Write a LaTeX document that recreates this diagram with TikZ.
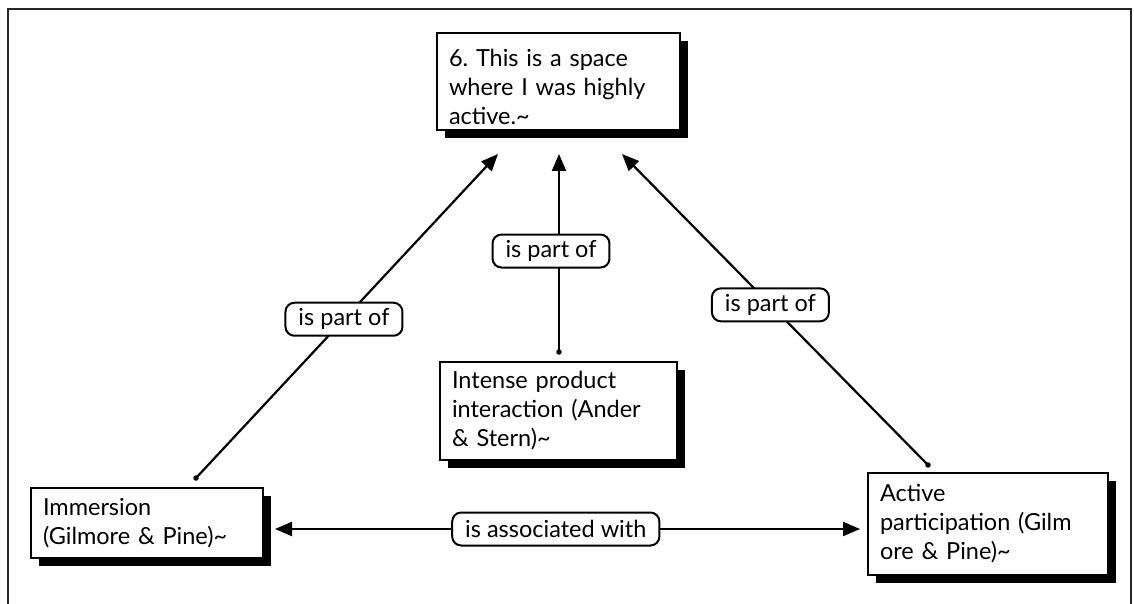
\documentclass[tikz,border=0pt]{standalone}
\usepackage{fontspec}
\setmainfont{Lato}
\frenchspacing
\usetikzlibrary{arrows.meta,shadows}
\begin{document}
\begin{tikzpicture}[x=1pt,y=-1pt,
  concept/.style={draw=black, line width=2.4pt, fill=white, align=left,
    inner xsep=12pt, inner ysep=0pt, font=\fontsize{23.5}{29}\selectfont,
    drop shadow={shadow xshift=8pt, shadow yshift=-8pt, opacity=1, fill=black}},
  link/.style={draw=black, line width=2pt, fill=white, rounded corners=9pt,
    inner xsep=13pt, inner ysep=0pt, minimum height=33pt,
    font=\fontsize{23.5}{28}\selectfont},
  conn/.style={line width=2.2pt, -{Triangle[length=17pt,width=14pt]}},
  biconn/.style={line width=2.2pt, {Triangle[length=17pt,width=14pt]}-{Triangle[length=17pt,width=14pt]}},
  tail/.style={circle, fill=black, inner sep=0pt, minimum size=5.5pt}
]
\useasboundingbox (0,0) rectangle (1134,604);
% outer frame
\draw[line width=2.2pt, black!85] (8,9) rectangle (1131,620);

% connector end points
\coordinate (tl) at (196,478);
\coordinate (hl) at (498,154);
\coordinate (tm) at (559,352);
\coordinate (hm) at (559,154);
\coordinate (tr) at (928,465);
\coordinate (hr) at (622,154);
\coordinate (bl) at (275,529);
\coordinate (br) at (860,529);

% connectors with linking phrases
\draw[conn] (tl) -- node[link, pos=0.49] (l1) {is part of} (hl);
\draw[conn] (tm) -- node[link, pos=0.51, xshift=-8pt] (l2) {is part of} (hm);
\draw[conn] (tr) -- node[link, pos=0.515] (l3) {is part of} (hr);
\draw[biconn] (bl) -- node[link, pos=0.48] (l4) {is associated with} (br);
\node[tail] (d1) at (tl) {};
\node[tail] (d2) at (tm) {};
\node[tail] (d3) at (tr) {};

% concepts
\node[concept, text width=219pt, minimum height=97pt] (top) at (558.5,81.5)
  {\rule{0pt}{29pt}6. This is a space\\where I was highly\\active.\textasciitilde};
\node[concept, text width=213pt, minimum height=98pt] (ips) at (558.5,411)
  {Intense product\\interaction (Ander\\\& Stern)\textasciitilde};
\node[concept, text width=208pt, minimum height=70pt] (imm) at (147,523)
  {Immersion\\(Gilmore \& Pine)\textasciitilde};
\node[concept, text width=216pt, minimum height=102pt] (act) at (988,524)
  {Active\\participation (Gilm\\ore \& Pine)\textasciitilde};
\end{tikzpicture}
\end{document}
